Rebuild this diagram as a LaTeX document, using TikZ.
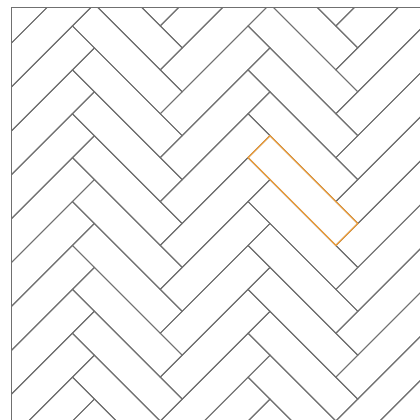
\documentclass[tikz,border=0pt]{standalone}
\definecolor{tilegray}{RGB}{112,112,112}
\definecolor{hiorange}{RGB}{240,160,60}
\tikzset{
  tile/.style={draw=tilegray, line width=1pt},
  hitile/.style={draw=hiorange, line width=1.2pt},
  framel/.style={draw=tilegray, line width=1.2pt}
}
\begin{document}
\begin{tikzpicture}[x=1pt,y=-1pt]
\useasboundingbox (0,0) rectangle (420,420);
\def\u{21.95}
\begin{scope}
\clip (11.7,7.3) rectangle (420,420);
\foreach \i in {-3,...,1}{
  \foreach \j in {-8,...,8}{
    \pgfmathsetmacro\px{270+8*\u*\i}
    \pgfmathsetmacro\py{135.7+2*\u*\j}
    \draw[tile] (\px,\py) -- ++(4*\u,4*\u) -- ++(-\u,\u) -- ++(-4*\u,-4*\u) -- cycle;
    \draw[tile] (\px+3*\u,\py+5*\u) -- ++(4*\u,-4*\u) -- ++(\u,\u) -- ++(-4*\u,4*\u) -- cycle;
  }
}
\draw[hitile] (270,135.7) -- ++(4*\u,4*\u) -- ++(-\u,\u) -- ++(-4*\u,-4*\u) -- cycle;
\end{scope}
\draw[framel] (11.7,420) -- (11.7,7.3) -- (420,7.3);
\end{tikzpicture}
\end{document}
